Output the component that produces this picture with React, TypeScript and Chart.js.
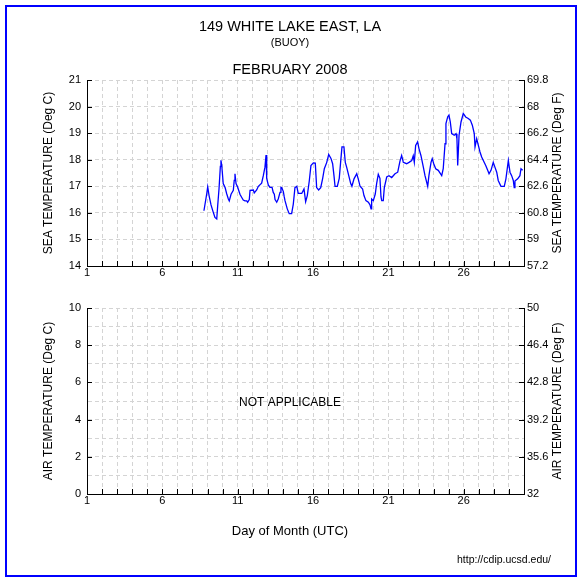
import React, { useEffect, useRef } from 'react';
import { Chart, registerables } from 'chart.js';

Chart.register(...registerables);

// ---- data ----
const seaDays = [
  8.76, 8.94, 9.01, 9.10, 9.23, 9.38, 9.49, 9.61, 9.67, 9.76, 9.85, 9.89, 9.94,
  10.04, 10.16, 10.27, 10.38, 10.44, 10.56, 10.71, 10.77, 10.82, 10.89, 11.00,
  11.15, 11.27, 11.37, 11.48, 11.60, 11.66, 11.77, 11.82, 12.04, 12.10, 12.26,
  12.37, 12.59, 12.70, 12.81, 12.88, 12.91, 12.94, 13.03, 13.14, 13.28, 13.36,
  13.43, 13.48, 13.59, 13.69, 13.81, 13.87, 13.92, 14.03, 14.09, 14.14, 14.29,
  14.42, 14.58, 14.69, 14.80, 14.92, 15.02, 15.25, 15.40, 15.51, 15.62, 15.75,
  15.86, 16.02, 16.15, 16.24, 16.37, 16.51, 16.64, 16.75, 16.91, 17.04, 17.19,
  17.30, 17.39, 17.46, 17.61, 17.74, 17.83, 17.92, 18.05, 18.14, 18.23, 18.37,
  18.50, 18.58, 18.72, 18.90, 19.00, 19.12, 19.29, 19.38, 19.51, 19.67, 19.78,
  19.85, 19.89, 20.00, 20.13, 20.22, 20.33, 20.44, 20.51, 20.56, 20.66, 20.73,
  20.89, 21.04, 21.22, 21.44, 21.62, 21.77, 21.88, 21.99, 22.21, 22.37, 22.55,
  22.65, 22.72, 22.81, 22.94, 23.03, 23.16, 23.32, 23.43, 23.61, 23.69, 23.83,
  23.91, 24.01, 24.14, 24.31, 24.54, 24.64, 24.76, 24.82, 24.94, 25.02, 25.11,
  25.20, 25.37, 25.49, 25.55, 25.60, 25.69, 25.82, 25.97, 26.13, 26.30, 26.44,
  26.57, 26.70, 26.75, 26.86, 26.97, 27.08, 27.19, 27.30, 27.46, 27.59, 27.68,
  27.81, 27.96, 28.07, 28.19, 28.29, 28.47, 28.69, 28.80, 28.96, 29.07, 29.18,
  29.29, 29.35, 29.40, 29.58, 29.73, 29.80, 29.91,
];
const seaTempC = [
  16.08, 16.7, 16.98, 16.65, 16.3, 16.02, 15.83, 15.77, 16.25, 16.9, 17.75, 17.98, 17.8,
  17.1, 16.96, 16.72, 16.52, 16.45, 16.7, 16.85, 17.22, 17.47, 17.1, 16.96,
  16.7, 16.58, 16.48, 16.45, 16.45, 16.4, 16.5, 16.85, 16.86, 16.75, 16.86,
  17.0, 17.12, 17.4, 17.72, 18.18, 17.6, 17.3, 17.05, 16.96, 16.96, 16.77,
  16.7, 16.5, 16.4, 16.52, 16.77, 16.96, 16.95, 16.8, 16.6, 16.46, 16.15,
  15.97, 15.97, 16.33, 16.95, 17.0, 16.73, 16.73, 16.9, 16.42, 16.65, 17.2,
  17.78, 17.88, 17.87, 16.95, 16.86, 16.95, 17.3, 17.66, 17.9, 18.2, 18.05,
  17.85, 17.4, 17.0, 17.0, 17.3, 17.9, 18.48, 18.48, 17.9, 17.72, 17.4,
  17.1, 17.0, 17.28, 17.47, 17.28, 17.0, 16.9, 16.65, 16.46, 16.4, 16.3,
  16.15, 16.52, 16.46, 16.71, 17.1, 17.45, 17.3, 16.6, 16.46, 16.46, 16.95,
  17.35, 17.4, 17.33, 17.47, 17.53, 17.95, 18.16, 17.9, 17.85, 17.9, 17.97,
  18.15, 17.9, 18.54, 18.67, 18.42, 18.16, 17.72, 17.4, 17.0, 17.4, 17.9,
  18.04, 17.85, 17.66, 17.6, 17.4, 17.66, 18.6, 19.36, 19.62, 19.68, 19.42,
  18.98, 18.92, 18.98, 18.79, 17.78, 18.92, 19.42, 19.74, 19.61, 19.55, 19.49,
  19.3, 18.98, 18.48, 18.79, 18.54, 18.29, 18.1, 17.97, 17.78, 17.6, 17.47,
  17.6, 17.9, 17.72, 17.53, 17.22, 17.0, 17.0, 17.28, 17.97, 17.53, 17.4,
  17.22, 16.95, 17.2, 17.28, 17.4, 17.66, 17.6,
];

const dayGrid = [1, 2, 3, 4, 5, 6, 7, 8, 9, 10, 11, 12, 13, 14, 15, 16, 17, 18, 19, 20, 21, 22, 23, 24, 25, 26, 27, 28, 29, 30];
const dayLabels = [1, 6, 11, 16, 21, 26];
const seaCTicks = [14, 15, 16, 17, 18, 19, 20, 21];
const seaFTicks = [57.2, 59, 60.8, 62.6, 64.4, 66.2, 68, 69.8];
const airCGrid = [0, 1, 2, 3, 4, 5, 6, 7, 8, 9, 10];
const airCLabels = [0, 2, 4, 6, 8, 10];
const airFTicks = [32, 35.6, 39.2, 42.8, 46.4, 50];

const FONT = '"Liberation Sans", Arial, Helvetica, sans-serif';
const GRID = '#d4d4d4';

type TextItem = { text: string; x: number; y: number; size: number; rotate?: boolean; align?: CanvasTextAlign; baseline?: CanvasTextBaseline };

const textPlugin = {
  id: 'texts',
  afterDraw(chart: any, _args: any, opts: any) {
    const ctx = chart.ctx as CanvasRenderingContext2D;
    const items: TextItem[] = opts.items || [];
    items.forEach((t) => {
      ctx.save();
      ctx.fillStyle = '#000';
      ctx.font = `${t.size}px ${FONT}`;
      ctx.textAlign = t.align || 'center';
      ctx.textBaseline = t.baseline || 'alphabetic';
      ctx.translate(t.x, t.y);
      if (t.rotate) ctx.rotate(-Math.PI / 2);
      ctx.fillText(t.text, 0, 0);
      ctx.restore();
    });
  },
};

const tickMarkPlugin = {
  id: 'tickMarks',
  afterDraw(chart: any, _args: any, opts: any) {
    const ctx = chart.ctx as CanvasRenderingContext2D;
    const area = chart.chartArea;
    const len = 5;
    ctx.save();
    ctx.strokeStyle = '#000';
    ctx.lineWidth = 1;
    ctx.beginPath();
    (opts.x || []).forEach((v: number) => {
      const p = Math.round(chart.scales.x.getPixelForValue(v)) + 0.5;
      ctx.moveTo(p, area.bottom);
      ctx.lineTo(p, area.bottom - len);
    });
    (opts.y || []).forEach((v: number) => {
      const p = Math.round(chart.scales.y.getPixelForValue(v)) + 0.5;
      ctx.moveTo(area.left, p);
      ctx.lineTo(area.left + len, p);
    });
    (opts.y2 || []).forEach((v: number) => {
      const p = Math.round(chart.scales.y2.getPixelForValue(v)) + 0.5;
      ctx.moveTo(area.right, p);
      ctx.lineTo(area.right - len, p);
    });
    ctx.stroke();
    ctx.restore();
  },
};

function buildScales(yMin: number, yMax: number, yGrid: number[], yLabels: number[], fMin: number, fMax: number, fTicks: number[], xHeight: number) {
  const tickFont = { family: FONT, size: 11 };
  return {
    x: {
      type: 'linear',
      position: 'bottom',
      min: 1,
      max: 30,
      afterFit: (s: any) => { s.height = xHeight; },
      afterBuildTicks: (s: any) => { s.ticks = dayGrid.map((v) => ({ value: v })); },
      ticks: {
        autoSkip: false,
        maxRotation: 0,
        minRotation: 0,
        padding: 0,
        color: '#000',
        font: tickFont,
        callback: (v: any) => (dayLabels.includes(Number(v)) ? String(v) : ''),
      },
      grid: { color: GRID, lineWidth: 1, drawTicks: false },
      border: { display: true, color: '#000', width: 1, dash: [4, 3] },
    },
    y: {
      type: 'linear',
      position: 'left',
      min: yMin,
      max: yMax,
      afterFit: (s: any) => { s.width = 87; },
      afterBuildTicks: (s: any) => { s.ticks = yGrid.map((v) => ({ value: v })); },
      ticks: {
        autoSkip: false,
        padding: 6,
        color: '#000',
        font: tickFont,
        callback: (v: any) => (yLabels.includes(Number(v)) ? String(v) : ''),
      },
      grid: { color: GRID, lineWidth: 1, drawTicks: false },
      border: { display: true, color: '#000', width: 1, dash: [4, 3] },
    },
    y2: {
      type: 'linear',
      position: 'right',
      min: fMin,
      max: fMax,
      afterFit: (s: any) => { s.width = 58; },
      afterBuildTicks: (s: any) => { s.ticks = fTicks.map((v) => ({ value: v })); },
      ticks: {
        autoSkip: false,
        padding: 3,
        color: '#000',
        font: tickFont,
        callback: (v: any) => String(v),
      },
      grid: { drawOnChartArea: false, drawTicks: false },
      border: { display: true, color: '#000', width: 1 },
    },
  };
}

export default function App() {
  const topRef = useRef<HTMLCanvasElement | null>(null);
  const botRef = useRef<HTMLCanvasElement | null>(null);

  useEffect(() => {
    const points = seaDays.map((d, i) => ({ x: d, y: seaTempC[i] }));
    const top = new Chart(topRef.current as HTMLCanvasElement, {
      type: 'line',
      data: {
        datasets: [
          {
            data: points,
            borderColor: '#0000ff',
            borderWidth: 1.3,
            pointRadius: 0,
            tension: 0,
            fill: false,
            yAxisID: 'y',
          },
        ],
      },
      options: {
        animation: false,
        responsive: false,
        devicePixelRatio: 1,
        layout: { padding: { top: 80, bottom: 0, left: 0, right: 0 } },
        plugins: {
          legend: { display: false },
          tooltip: { enabled: false },
          tickMarks: { x: dayGrid, y: seaCTicks, y2: seaFTicks },
          texts: {
            items: [
              { text: '149 WHITE LAKE EAST, LA', x: 290, y: 31, size: 14.5 },
              { text: '(BUOY)', x: 290, y: 46, size: 11 },
              { text: 'FEBRUARY 2008', x: 290, y: 74, size: 14.5 },
              { text: 'SEA TEMPERATURE (Deg C)', x: 49, y: 173, size: 12, rotate: true, baseline: 'middle' },
              { text: 'SEA TEMPERATURE (Deg F)', x: 558, y: 173, size: 12, rotate: true, baseline: 'middle' },
            ],
          },
        } as any,
        scales: buildScales(14, 21, seaCTicks, seaCTicks, 57.2, 69.8, seaFTicks, 24) as any,
      },
      plugins: [tickMarkPlugin, textPlugin],
    });

    const bot = new Chart(botRef.current as HTMLCanvasElement, {
      type: 'line',
      data: { datasets: [] },
      options: {
        animation: false,
        responsive: false,
        devicePixelRatio: 1,
        layout: { padding: { top: 18, bottom: 67, left: 0, right: 0 } },
        plugins: {
          legend: { display: false },
          tooltip: { enabled: false },
          tickMarks: { x: dayGrid, y: airCLabels, y2: airFTicks },
          texts: {
            items: [
              { text: 'NOT APPLICABLE', x: 290, y: 113, size: 12, baseline: 'middle' },
              { text: 'AIR TEMPERATURE (Deg C)', x: 49, y: 111, size: 12, rotate: true, baseline: 'middle' },
              { text: 'AIR TEMPERATURE (Deg F)', x: 558, y: 111, size: 12, rotate: true, baseline: 'middle' },
              { text: 'Day of Month (UTC)', x: 290, y: 241, size: 13, baseline: 'middle' },
              { text: 'http://cdip.ucsd.edu/', x: 551, y: 270, size: 10.5, align: 'right', baseline: 'middle' },
            ],
          },
        } as any,
        scales: buildScales(0, 10, airCGrid, airCLabels, 32, 50, airFTicks, 20) as any,
      },
      plugins: [tickMarkPlugin, textPlugin],
    });

    return () => {
      top.destroy();
      bot.destroy();
    };
  }, []);

  return (
    <div style={{ position: 'absolute', left: 0, top: 0, width: 582, height: 581, background: '#fff' }}>
      <canvas ref={topRef} width={582} height={290} style={{ position: 'absolute', left: 0, top: 0, display: 'block' }} />
      <canvas ref={botRef} width={582} height={291} style={{ position: 'absolute', left: 0, top: 290, display: 'block' }} />
      <div
        style={{
          position: 'absolute',
          left: 5,
          top: 5,
          width: 572,
          height: 572,
          boxSizing: 'border-box',
          border: '2px solid #0000ff',
          pointerEvents: 'none',
        }}
      />
    </div>
  );
}
